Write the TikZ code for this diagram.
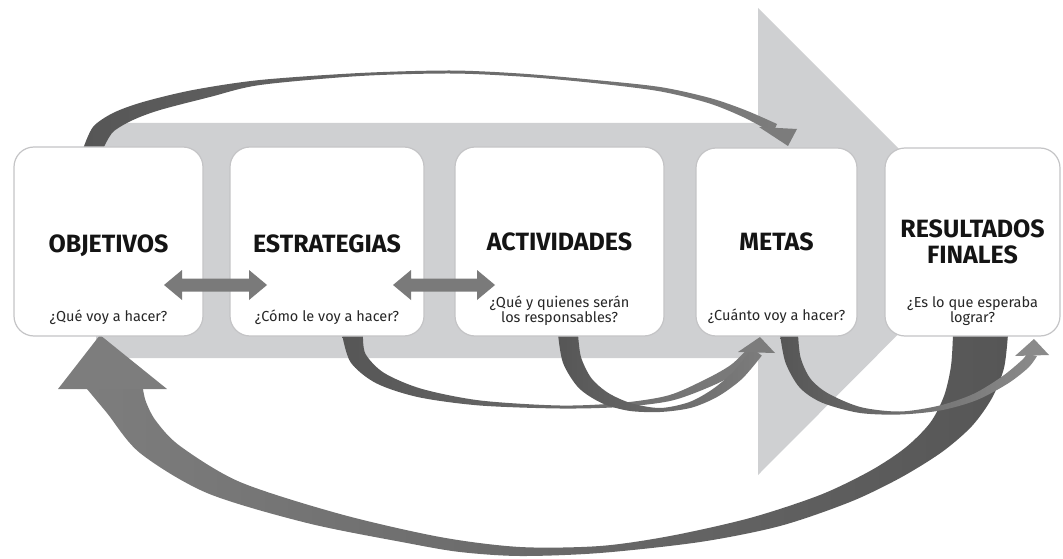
\documentclass[tikz,border=0pt]{standalone}
\usepackage{fontspec}
\setmainfont{Fira Sans}

\definecolor{bandgray}{RGB}{207,208,210}
\definecolor{boxline}{RGB}{196,196,198}
\definecolor{twowaygray}{RGB}{122,122,122}
\definecolor{loopdark}{RGB}{86,86,86}
\definecolor{loopmid}{RGB}{104,104,104}
\definecolor{looplight}{RGB}{124,124,124}
\definecolor{looppale}{RGB}{138,138,138}
\definecolor{bigleft}{RGB}{125,125,125}
\definecolor{bigright}{RGB}{86,86,86}

\begin{document}
\begin{tikzpicture}[x=1pt,y=-1pt,
  stagebox/.style={draw=boxline, line width=1.2pt, fill=white,
    rounded corners=20pt, inner sep=0pt},
  stagetitle/.style={font=\bfseries\fontsize{25}{27}\selectfont,
    text=black!92, anchor=base, inner sep=0pt},
  question/.style={font=\fontsize{14.5}{15}\selectfont,
    text=black!85, anchor=base, inner sep=0pt}
]
\useasboundingbox (0,0) rectangle (1063,559);

% broad light arrow behind the stages
\fill[bandgray] (96,123) -- (758,123) -- (758,8) -- (991,241)
  -- (758,475) -- (758,358) -- (96,358) -- cycle;

% large return loop: from the final results back to the objectives
\shade[left color=bigleft, right color=bigright]
  plot[smooth] coordinates {(1008,334) (1004,368) (992,398) (972,426)
    (942,452) (900,478) (850,502) (780,526) (700,542) (600,553)
    (520,556) (460,552) (407,543) (307,523) (207,493) (140,453)
    (107,413) (87,389)}
  -- plot[smooth] coordinates {(143,389) (146,402) (156,421) (180,446)
    (240,482) (340,514) (440,537) (520,547) (600,546) (670,536)
    (750,518) (820,495) (870,471) (905,448) (930,423) (944,396)
    (951,366) (953,334)}
  -- cycle;
\fill[bigleft] (58,389) -- (100,335) -- (167,389) -- cycle;

% upper loop: objectives straight to the goals
\shade[left color=loopdark, right color=looplight]
  plot[smooth] coordinates {(83,149) (93,127) (113,113) (143,102)
    (193,90) (260,80) (360,73) (450,70.5) (520,73.5) (590,79.5)
    (660,87) (710,98) (745,110) (777,124)}
  -- plot[smooth] coordinates {(773,133) (743,117) (708,103) (658,91)
    (589,82.5) (520,76.5) (450,73.5) (360,76) (260,85) (210,97)
    (160,110) (133,120) (113,132) (103,149)}
  -- cycle;
\fill[looplight] (759,127) -- (797,129) -- (788,146) -- cycle;

% strategies to goals
\shade[left color=loopdark, right color=looplight]
  plot[smooth] coordinates {(342,334) (350.6,362.3) (376.1,383.2)
    (418.5,397.2) (479.7,405.5) (560,408.5) (620.2,407) (671.3,400.7)
    (712.7,385.6) (738.6,371.5) (756.4,355.3)}
  -- plot[smooth] coordinates {(747.6,348.7) (731.4,364.5) (707.3,378.4)
    (668.7,395.3) (619.8,403) (560,405.5) (480.3,400.5) (421.5,388.8)
    (383.9,372.8) (365.4,353.7) (363,334)}
  -- cycle;

% activities to goals
\shade[left color=loopdark, right color=looplight]
  plot[smooth] coordinates {(558,334) (563,362.9) (578.6,387.8)
    (601.8,403.1) (628.9,410.8) (660,412) (691.1,407.8) (717.7,396.6)
    (742,378.9) (761.8,355.6)}
  -- plot[smooth] coordinates {(752.2,348.4) (734,371.1) (712.3,389.4)
    (688.9,402.2) (660,408) (631.1,403.2) (608.2,392.9) (591.4,378.2)
    (581,357.1) (578,334)}
  -- cycle;
\fill[looplight] (738,352) -- (760,337) -- (775,353) -- cycle;

% goals to final results
\shade[left color=loopdark, right color=looppale]
  plot[smooth] coordinates {(780,334) (785.4,362.4) (799.7,387.6)
    (822.1,402.7) (859.4,412.9) (900,414.5) (940.7,410.4) (976.5,400.2)
    (1007.9,383.5) (1028.5,367.5) (1037,356)}
  -- plot[smooth] coordinates {(1027,354) (1021.5,360.5) (1002.1,376.5)
    (973.5,393.9) (939.3,405.6) (900,411.5) (860.6,407.1) (827.9,393.3)
    (810.3,378.5) (800.6,357.6) (798,334)}
  -- cycle;
\fill[looppale] (1015,356) -- (1034,339) -- (1049,355) -- cycle;

% stage boxes
\node[stagebox, minimum width=189pt, minimum height=189pt] (obj) at (108.5,241.5) {};
\node[stagebox, minimum width=194pt, minimum height=189pt] (est) at (327,241.5) {};
\node[stagebox, minimum width=209pt, minimum height=189pt] (act) at (559.5,241.5) {};
\node[stagebox, minimum width=161pt, minimum height=188pt] (met) at (776.5,242) {};
\node[stagebox, minimum width=175pt, minimum height=188pt] (res) at (972.5,242) {};

% two-way arrows between neighbouring stages
\fill[twowaygray] (164,285) -- (182,270) -- (182,278.5) -- (249,278.5)
  -- (249,270) -- (267,285) -- (249,300) -- (249,291.5) -- (182,291.5)
  -- (182,300) -- cycle;
\fill[twowaygray] (393,285) -- (411,270) -- (411,278.5) -- (477,278.5)
  -- (477,270) -- (495,285) -- (477,300) -- (477,291.5) -- (411,291.5)
  -- (411,300) -- cycle;

% stage titles
\node[stagetitle] (tobj) at (108.5,252) {OBJETIVOS};
\node[stagetitle] (test) at (327,252) {ESTRATEGIAS};
\node[stagetitle] (tact) at (559.5,250) {ACTIVIDADES};
\node[stagetitle] (tmet) at (776.5,250) {METAS};
\node[stagetitle] (tres1) at (972.5,237) {RESULTADOS};
\node[stagetitle] (tres2) at (972.5,263) {FINALES};

% guiding questions
\node[question] (qobj) at (108.5,321) {¿Qué voy a hacer?};
\node[question] (qest) at (327,321) {¿Cómo le voy a hacer?};
\node[question] (qact1) at (559.5,307) {¿Qué y quienes serán};
\node[question] (qact2) at (559.5,322) {los responsables?};
\node[question] (qmet) at (776.5,320) {¿Cuánto voy a hacer?};
\node[question] (qres1) at (972.5,307) {¿Es lo que esperaba};
\node[question] (qres2) at (972.5,322) {lograr?};
\end{tikzpicture}
\end{document}
